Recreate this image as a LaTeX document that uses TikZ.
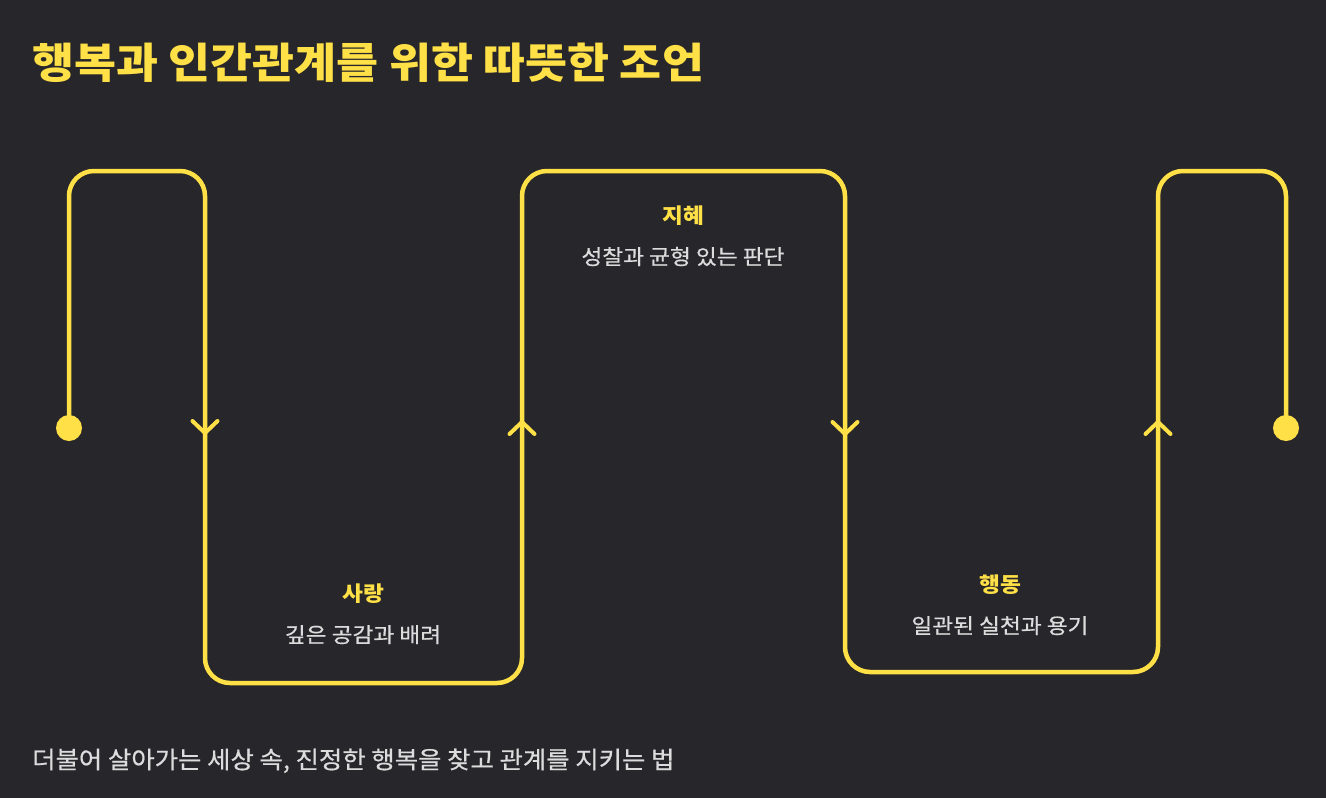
\documentclass[tikz,border=0pt]{standalone}
\usepackage{fontspec}
\setmainfont{Noto Sans CJK KR}
\newfontfamily\krttl{Noto Sans CJK KR}[FakeStretch=1.087]
\newfontfamily\krlab{Noto Sans CJK KR}[FakeStretch=1.08]
\newfontfamily\krsub{Noto Sans CJK KR}[FakeStretch=1.08,FakeBold=0.6]
\newfontfamily\krfoot{Noto Sans CJK KR}[FakeStretch=1.058,FakeBold=0.6]
\definecolor{bg}{HTML}{27272B}
\definecolor{ylw}{HTML}{FFE047}
\definecolor{txt}{HTML}{DCDCDC}
\begin{document}
\begin{tikzpicture}[x=1pt,y=-1pt,
  flow/.style={draw=ylw, line width=4.5pt, rounded corners=25pt},
  chev/.style={draw=ylw, line width=4pt, line cap=round, line join=round},
  dot/.style={circle, fill=ylw, minimum size=26pt, inner sep=0pt},
  ttl/.style={text=ylw, font=\krttl\fontsize{42}{50}\selectfont\bfseries, anchor=base west, inner sep=0pt},
  head/.style={text=ylw, font=\krlab\fontsize{21}{25}\selectfont\bfseries, anchor=base, inner sep=0pt},
  sub/.style={text=txt, font=\krsub\fontsize{21}{25}\selectfont, anchor=base, inner sep=0pt},
  foot/.style={text=txt, font=\krfoot\fontsize{24}{29}\selectfont, anchor=base west, inner sep=0pt}]
\fill[bg] (0,0) rectangle (1326,798);
\useasboundingbox (0,0) rectangle (1326,798);

\node[ttl] (title) at (32,78) {행복과 인간관계를 위한 따뜻한 조언};
\node[foot] (footer) at (32,768.5) {더불어 살아가는 세상 속, 진정한 행복을 찾고 관계를 지키는 법};

% path corners
\coordinate (c1) at (69,171);
\coordinate (c2) at (205,171);
\coordinate (c3) at (205,683);
\coordinate (c4) at (522,683);
\coordinate (c5) at (522,171);
\coordinate (c6) at (845,171);
\coordinate (c7) at (845,672);
\coordinate (c8) at (1158,672);
\coordinate (c9) at (1158,171);
\coordinate (c10) at (1286,171);

\node[dot] (start) at (69,428) {};
\node[dot] (end) at (1286,428) {};

\draw[flow] (start.center) -- (c1) -- (c2) -- (c3) -- (c4) -- (c5) -- (c6) -- (c7) -- (c8) -- (c9) -- (c10) -- (end.center);

% chevrons
\coordinate (a1) at (205,433);
\coordinate (a2) at (522,422);
\coordinate (a3) at (845,434);
\coordinate (a4) at (1158,422);
\draw[chev] ([shift={(-12.5,-12)}]a1) -- (a1) -- ([shift={(12.5,-12)}]a1);
\draw[chev] ([shift={(-12.5,12)}]a2) -- (a2) -- ([shift={(12.5,12)}]a2);
\draw[chev] ([shift={(-12.5,-12)}]a3) -- (a3) -- ([shift={(12.5,-12)}]a3);
\draw[chev] ([shift={(-12.5,12)}]a4) -- (a4) -- ([shift={(12.5,12)}]a4);

% labels
\node[head] (h1) at (363,601.5) {사랑};
\node[sub] (s1) at (363,642.5) {깊은 공감과 배려};
\node[head] (h2) at (683,223.5) {지혜};
\node[sub] (s2) at (683,264.5) {성찰과 균형 있는 판단};
\node[head] (h3) at (1000,592.5) {행동};
\node[sub] (s3) at (1000,633.5) {일관된 실천과 용기};
\end{tikzpicture}
\end{document}
